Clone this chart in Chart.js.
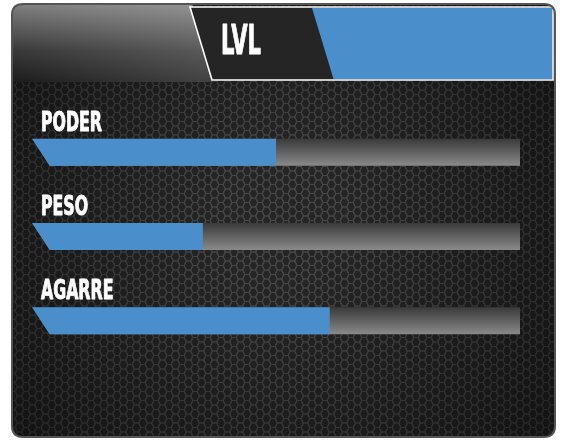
<!DOCTYPE html>
<html>
<head>
<meta charset="utf-8">
<script src="https://cdn.jsdelivr.net/npm/chart.js@4.4.1/dist/chart.umd.min.js"></script>
<style>
  html, body { margin: 0; padding: 0; background: #ffffff; }
  canvas { display: block; }
</style>
</head>
<body>
<canvas id="c" width="565" height="442"></canvas>
<script>
// ---- data ----
const categories = ['PODER', 'PESO', 'AGARRE'];
const levelValues = [50, 35, 61];
const maxValues = [100, 100, 100];
const titleText = 'LVL';

const BLUE = '#4a8fcc';
const FONT_FAMILY = '"Liberation Sans Narrow", "DejaVu Sans Condensed", sans-serif';

function makeHexPattern(ctx) {
  const c = document.createElement('canvas');
  c.width = 13; c.height = 9;
  const g = c.getContext('2d');
  g.fillStyle = '#252525';
  g.fillRect(0, 0, 13, 9);
  const a = 4.4, b = 2.1, h = 9;
  const centers = [[0,0],[13,0],[0,9],[13,9],[6.5,4.5],[6.5,-4.5],[6.5,13.5]];
  g.strokeStyle = '#474747';
  g.lineWidth = 1.2;
  centers.forEach(([cx, cy]) => {
    g.beginPath();
    g.moveTo(cx - a, cy);
    g.lineTo(cx - b, cy - h / 2);
    g.lineTo(cx + b, cy - h / 2);
    g.lineTo(cx + a, cy);
    g.lineTo(cx + b, cy + h / 2);
    g.lineTo(cx - b, cy + h / 2);
    g.closePath();
    g.stroke();
  });
  return ctx.createPattern(c, 'repeat');
}

function roundRectPath(ctx, x, y, w, hgt, r) {
  ctx.beginPath();
  ctx.moveTo(x + r, y);
  ctx.lineTo(x + w - r, y);
  ctx.quadraticCurveTo(x + w, y, x + w, y + r);
  ctx.lineTo(x + w, y + hgt - r);
  ctx.quadraticCurveTo(x + w, y + hgt, x + w - r, y + hgt);
  ctx.lineTo(x + r, y + hgt);
  ctx.quadraticCurveTo(x, y + hgt, x, y + hgt - r);
  ctx.lineTo(x, y + r);
  ctx.quadraticCurveTo(x, y, x + r, y);
  ctx.closePath();
}

function drawCondensed(ctx, text, x, y, sx) {
  ctx.save();
  ctx.translate(x, y);
  ctx.scale(sx, 1);
  ctx.lineWidth = 0.9;
  ctx.strokeStyle = ctx.fillStyle;
  ctx.lineJoin = 'round';
  ctx.strokeText(text, 0, 0);
  ctx.fillText(text, 0, 0);
  ctx.restore();
}

const panelPlugin = {
  id: 'panel',
  beforeDraw(chart) {
    const ctx = chart.ctx;
    ctx.save();
    // panel body
    roundRectPath(ctx, 12, 4, 543, 433, 11);
    ctx.fillStyle = makeHexPattern(ctx);
    ctx.fill();
    ctx.save();
    ctx.clip();
    // vignette
    const rg = ctx.createRadialGradient(280, 220, 60, 280, 240, 340);
    rg.addColorStop(0, 'rgba(0,0,0,0)');
    rg.addColorStop(1, 'rgba(0,0,0,0.5)');
    ctx.fillStyle = rg;
    ctx.fillRect(0, 0, 565, 442);
    // header left gradient
    ctx.beginPath();
    ctx.moveTo(0, 0); ctx.lineTo(191, 0); ctx.lineTo(213.5, 82); ctx.lineTo(0, 82);
    ctx.closePath();
    const lg = ctx.createLinearGradient(0, 82, 0, 5);
    lg.addColorStop(0, '#1c1c1c');
    lg.addColorStop(0.4, '#383838');
    lg.addColorStop(1, '#7e7e7e');
    ctx.fillStyle = lg;
    ctx.fill();
    const hg = ctx.createLinearGradient(12, 0, 200, 0);
    hg.addColorStop(0, 'rgba(255,255,255,0)');
    hg.addColorStop(1, 'rgba(255,255,255,0.16)');
    ctx.fillStyle = hg;
    ctx.fill();
    ctx.restore();
    // dark header panel with white outline
    ctx.beginPath();
    ctx.moveTo(190, 7); ctx.lineTo(553, 7); ctx.lineTo(553, 80); ctx.lineTo(212, 80);
    ctx.closePath();
    ctx.fillStyle = '#252525';
    ctx.fill();
    // blue section
    ctx.beginPath();
    ctx.moveTo(312, 8); ctx.lineTo(552, 8); ctx.lineTo(552, 79); ctx.lineTo(333.5, 79);
    ctx.closePath();
    ctx.fillStyle = BLUE;
    ctx.fill();
    ctx.beginPath();
    ctx.moveTo(190, 7); ctx.lineTo(553, 7); ctx.lineTo(553, 80); ctx.lineTo(212, 80);
    ctx.closePath();
    ctx.strokeStyle = '#ffffff';
    ctx.lineWidth = 1.6;
    ctx.stroke();
    // panel border
    roundRectPath(ctx, 12, 4, 543, 433, 11);
    ctx.strokeStyle = '#555555';
    ctx.lineWidth = 2;
    ctx.stroke();
    // title
    ctx.fillStyle = '#ffffff';
    ctx.font = 'bold 40px ' + FONT_FAMILY;
    ctx.textBaseline = 'alphabetic';
    const w = ctx.measureText(titleText).width;
    drawCondensed(ctx, titleText, 221, 54, 40 / w);
    ctx.restore();
  },
  beforeDatasetDraw(chart, args) {
    const ctx = chart.ctx;
    const meta = args.meta;
    const isTrack = meta.index === 1;
    ctx.save();
    meta.data.forEach((el) => {
      const p = el.getProps(['x', 'y', 'base', 'height'], true);
      const top = p.y - p.height / 2, bot = p.y + p.height / 2;
      const slant = p.height * 0.66;
      ctx.beginPath();
      ctx.moveTo(p.base, top);
      ctx.lineTo(p.x, top);
      ctx.lineTo(p.x, bot);
      ctx.lineTo(p.base + slant, bot);
      ctx.closePath();
      if (isTrack) {
        const g = ctx.createLinearGradient(0, top, 0, bot);
        g.addColorStop(0, '#3a3a3a');
        g.addColorStop(1, '#8a8a8a');
        ctx.fillStyle = g;
      } else {
        ctx.fillStyle = BLUE;
      }
      ctx.fill();
    });
    ctx.restore();
    return false;
  },
  afterDatasetsDraw(chart) {
    const ctx = chart.ctx;
    const meta = chart.getDatasetMeta(0);
    ctx.save();
    ctx.fillStyle = '#ffffff';
    ctx.font = 'bold 26px ' + FONT_FAMILY;
    ctx.textBaseline = 'alphabetic';
    const ref = ctx.measureText('PODER').width;
    const sx = 61 / ref;
    meta.data.forEach((el, i) => {
      const p = el.getProps(['y', 'base', 'height'], true);
      drawCondensed(ctx, chart.data.labels[i], p.base + 9, p.y - p.height / 2 - 8, sx);
    });
    ctx.restore();
  }
};

new Chart(document.getElementById('c'), {
  type: 'bar',
  data: {
    labels: categories,
    datasets: [
      { label: 'Nivel', data: levelValues, backgroundColor: BLUE, order: 0 },
      { label: 'Máximo', data: maxValues, backgroundColor: '#666666', order: 1 }
    ]
  },
  options: {
    indexAxis: 'y',
    responsive: false,
    devicePixelRatio: 1,
    animation: false,
    barThickness: 27,
    layout: { padding: { left: 32, right: 45, top: 110, bottom: 79 } },
    scales: {
      x: { display: false, min: 0, max: 100 },
      y: { display: false, stacked: true }
    },
    plugins: {
      legend: { display: false },
      tooltip: { enabled: false },
      title: { display: false }
    }
  },
  plugins: [panelPlugin]
});
</script>
</body>
</html>
